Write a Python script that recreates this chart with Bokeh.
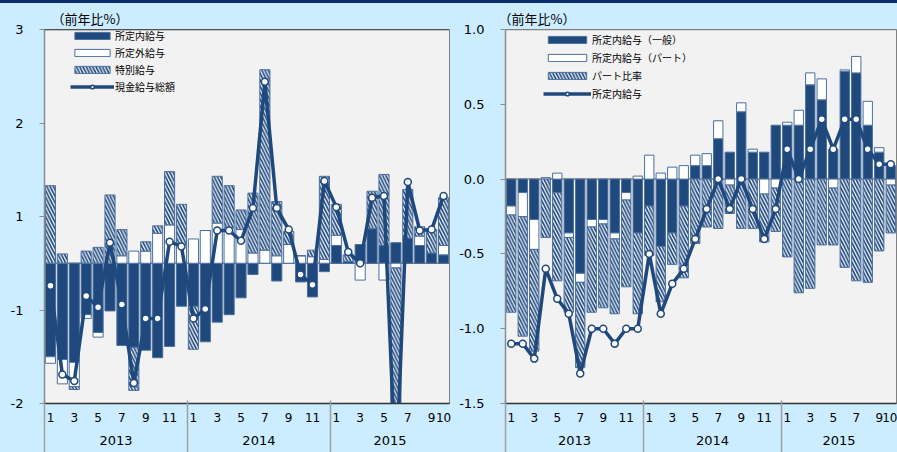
import numpy as np
from bokeh.plotting import figure
from bokeh.models import FixedTicker, LinearAxis, Range1d, Legend, LegendItem, Span
from bokeh.layouts import row
from bokeh.embed import file_html
from bokeh.resources import INLINE

# ---------------- data ----------------
years = [2013] * 12 + [2014] * 12 + [2015] * 10
months = list(range(1, 13)) * 2 + list(range(1, 11))
year_labels = ["2013", "2014", "2015"]
unit_label = "（前年比%）"

# left panel: contributions to total cash earnings (% y/y)
left_names = ["所定内給与", "所定外給与", "特別給与", "現金給与総額"]
left_scheduled = [-1.00, -1.03, -1.06, -0.55, -0.74, -0.51, -0.88, -0.90, -0.93, -1.01, -0.89, -0.46,
                  -0.46, -0.84, -0.63, -0.55, -0.37, -0.12, 0.00, -0.19, 0.00, -0.20, -0.36, -0.09,
                  0.19, 0.02, 0.20, 0.37, 0.19, 0.22, 0.27, 0.19, 0.11, 0.09]
left_overtime = [-0.07, -0.26, -0.26, -0.04, -0.05, 0.00, 0.08, 0.13, 0.13, 0.32, 0.41, 0.20,
                 0.26, 0.35, 0.43, 0.38, 0.36, 0.11, 0.14, 0.08, 0.20, 0.08, 0.07, 0.04,
                 0.11, 0.00, -0.18, 0.00, -0.18, -0.05, 0.00, 0.10, 0.00, 0.10]
left_special = [0.83, 0.10, -0.03, 0.13, 0.17, 0.73, 0.28, -0.46, 0.10, 0.08, 0.57, 0.43,
                -0.46, 0.00, 0.50, 0.45, 0.21, 0.64, 1.93, 0.58, 0.14, 0.00, 0.07, 0.89,
                0.33, 0.07, 0.00, 0.40, 0.76, -2.40, 0.52, 0.10, 0.25, 0.51]
left_total = [-0.24, -1.19, -1.26, -0.35, -0.47, 0.22, -0.44, -1.28, -0.59, -0.59, 0.23, 0.18,
              -0.59, -0.49, 0.35, 0.35, 0.24, 0.59, 1.94, 0.59, 0.36, -0.12, -0.23, 0.88,
              0.60, 0.12, 0.00, 0.70, 0.72, -2.30, 0.87, 0.35, 0.36, 0.72]
left_yticks = [-1.5, -0.5, 0.5, 1.5, 2.5]
left_ylabels = ["-2", "-1", "1", "2", "3"]

# right panel: contributions to scheduled earnings (% y/y)
right_names = ["所定内給与（一般）", "所定内給与（パート）", "パート比率", "所定内給与"]
right_general = [-0.18, -0.09, -0.27, 0.00, -0.09, -0.36, -0.63, -0.27, -0.27, -0.36, -0.09, -0.36,
                 -0.18, -0.45, -0.36, -0.18, 0.09, 0.09, 0.27, 0.18, 0.45, 0.18, 0.18, 0.36,
                 0.36, 0.36, 0.63, 0.53, 0.20, 0.72, 0.71, 0.36, 0.18, 0.09]
right_part = [-0.06, -0.16, -0.20, 0.01, 0.04, -0.03, -0.06, -0.05, -0.03, -0.04, -0.05, 0.02,
              0.16, 0.04, 0.08, 0.09, 0.07, 0.08, 0.12, -0.04, 0.06, 0.02, -0.10, -0.06,
              0.02, 0.10, 0.08, 0.14, -0.06, 0.01, 0.11, 0.16, 0.03, -0.04]
right_ratio = [-0.65, -0.80, -0.68, -0.39, -0.59, -0.50, -0.57, -0.57, -0.56, -0.50, -0.58, -0.54,
               -0.33, -0.37, -0.21, -0.48, -0.43, -0.32, -0.33, -0.19, -0.33, -0.33, -0.32, -0.29,
               -0.52, -0.76, -0.73, -0.44, -0.38, -0.59, -0.68, -0.69, -0.48, -0.32]
right_total = [-1.1, -1.1, -1.2, -0.6, -0.8, -0.9, -1.3, -1.0, -1.0, -1.1, -1.0, -1.0,
               -0.5, -0.9, -0.7, -0.6, -0.4, -0.2, 0.0, -0.2, 0.0, -0.2, -0.4, -0.2,
               0.2, 0.0, 0.2, 0.4, 0.2, 0.4, 0.4, 0.2, 0.1, 0.1]
right_yticks = [-1.5, -1.0, -0.5, 0.0, 0.5, 1.0]
right_ylabels = ["-1.5", "-1.0", "-0.5", "0.0", "0.5", "1.0"]

# ---------------- style ----------------
NAVY = "#1F497D"
EDGE = "#4A6F9E"
JP = "Noto Sans CJK JP"
NUM = "DejaVu Sans"


def stack_bounds(series):
    n = len(series[0])
    pos = np.zeros(n)
    neg = np.zeros(n)
    out = []
    for s in series:
        s = np.asarray(s, dtype=float)
        bottom = np.where(s >= 0, pos, neg)
        top = bottom + s
        pos = pos + np.clip(s, 0, None)
        neg = neg + np.clip(s, None, 0)
        out.append((bottom, top))
    return out


def build(series, total, names, yrange, yticks, ylabels, frame_w, bl, br, bt, bb,
          title_off, leg_loc, glyph_w, spacing, bar_w, top_color):
    n = len(months)
    x = np.arange(n)
    p = figure(frame_width=frame_w, frame_height=374,
               x_range=Range1d(-0.5, n - 0.5), y_range=Range1d(*yrange),
               output_backend="svg", toolbar_location=None,
               min_border_left=bl, min_border_right=br, min_border_top=bt, min_border_bottom=bb,
               background_fill_color="#F2F2F2", border_fill_color=None,
               outline_line_color="#808080", outline_line_width=1)
    p.xgrid.visible = False
    p.ygrid.visible = False

    p.add_layout(Span(location=0, dimension="width", line_color="#808080",
                      line_width=1.5, level="underlay"))
    p.add_layout(Span(location=yrange[1], dimension="width", line_color=top_color,
                      line_width=1.5))

    styles = [
        dict(fill_color=NAVY, line_color=EDGE),
        dict(fill_color="white", line_color=EDGE),
        dict(fill_color="white", line_color=EDGE, hatch_pattern="left_diagonal_line",
             hatch_color=NAVY, hatch_weight=1.7, hatch_scale=6.5),
    ]
    renderers = []
    for (bottom, top), st in zip(stack_bounds(series), styles):
        r = p.vbar(x=x, bottom=bottom, top=top, width=bar_w, line_width=1, **st)
        renderers.append(r)
    lr = p.line(x, total, line_color=NAVY, line_width=3.5)
    sr = p.scatter(x, total, size=7, fill_color="white", line_color=NAVY, line_width=1.5)

    items = [LegendItem(label=names[i], renderers=[renderers[i]]) for i in range(3)]
    items.append(LegendItem(label=names[3], renderers=[lr, sr]))
    leg = Legend(items=items, location=leg_loc, glyph_width=glyph_w, glyph_height=9,
                 label_height=9, spacing=spacing, padding=0, margin=0, label_standoff=1,
                 background_fill_alpha=0, border_line_color=None,
                 label_text_font=JP, label_text_font_size="10px", label_text_color="black")
    p.add_layout(leg)

    # y axis
    ya = p.yaxis[0]
    ya.ticker = FixedTicker(ticks=yticks, minor_ticks=[])
    ya.major_label_overrides = {t: l for t, l in zip(yticks, ylabels)}
    ya.axis_line_color = "#8C8C8C"
    ya.axis_line_width = 1.5
    ya.major_tick_line_color = "#8C8C8C"
    ya.major_tick_in = 0
    ya.major_tick_out = 5
    ya.major_label_standoff = 16
    ya.major_label_text_font = NUM
    ya.major_label_text_font_size = "13px"
    ya.major_label_text_color = "black"

    # month axis
    shown = [i for i, m in enumerate(months) if m % 2 == 1 or i == n - 1]
    xa = p.xaxis[0]
    xa.ticker = FixedTicker(ticks=shown, minor_ticks=[])
    xa.major_label_overrides = {i: str(months[i]) for i in shown}
    xa.axis_line_color = "#333333"
    xa.axis_line_width = 1.5
    xa.major_tick_in = 0
    xa.major_tick_out = 0
    xa.major_label_standoff = 9
    xa.major_label_text_font = NUM
    xa.major_label_text_font_size = "12px"
    xa.major_label_text_color = "black"

    # year axis with separators
    yrs = sorted(set(years))
    centers = [float(np.mean([i for i, y in enumerate(years) if y == yr])) for yr in yrs]
    bounds = [i - 0.5 for i in range(n) if i == 0 or years[i] != years[i - 1]]
    ax = LinearAxis(ticker=FixedTicker(ticks=centers, minor_ticks=bounds),
                    major_label_overrides={c: l for c, l in zip(centers, year_labels)},
                    major_tick_in=0, major_tick_out=0,
                    minor_tick_in=24, minor_tick_out=30,
                    minor_tick_line_color="#A0A0A0", minor_tick_line_width=1.5,
                    axis_line_color=None, major_label_standoff=-19,
                    major_label_text_font=NUM, major_label_text_font_size="13px",
                    major_label_text_color="black")
    p.add_layout(ax, "below")

    p.title.text = unit_label
    p.title.text_font = JP
    p.title.text_font_size = "13px"
    p.title.text_font_style = "normal"
    p.title.text_color = "black"
    p.title.align = "left"
    p.title.offset = title_off
    p.title.standoff = 4
    return p


p1 = build([left_scheduled, left_overtime, left_special], left_total, left_names,
           (-1.5, 2.5), left_yticks, left_ylabels, 405, 44, 3, 27, 51,
           7, (26, 309), 44, 2, 0.85, "#222222")
p2 = build([right_general, right_part, right_ratio], right_total, right_names,
           (-1.5, 1.0), right_yticks, right_ylabels, 391, 53, 1, 29, 49,
           -7, (38, 302), 48, 3, 0.81, "#808080")

layout = row(p1, p2, styles={
    "background": "linear-gradient(to bottom, #0B2C6A 0px, #0B2C6A 3px, #CCECFF 3px, #CCECFF 100%)"})

open("out.html", "w").write(file_html(layout, INLINE))
